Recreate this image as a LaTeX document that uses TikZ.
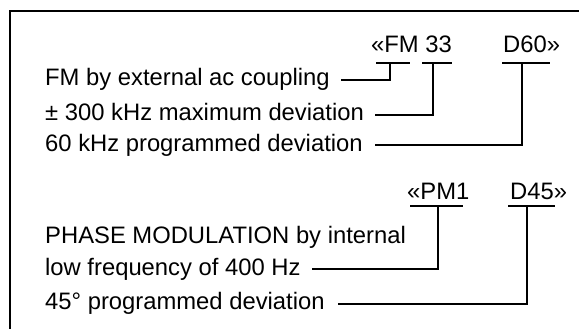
\documentclass[tikz,border=0pt]{standalone}
\usepackage{fontspec}
\setmainfont{Liberation Sans}
\usetikzlibrary{calc}
\begin{document}
\begin{tikzpicture}[x=1pt,y=-1pt,
  txt/.style={anchor=base west,inner sep=0pt,font=\fontsize{23.8}{28}\selectfont},
  bar/.style={line width=2.6pt},
  lead/.style={line width=1.8pt},
  frame/.style={line width=1.6pt}]
\useasboundingbox (0,0) rectangle (579,329);
\draw[frame] (579,11) -- (10,11) -- (10,329);
% description rows
\node[txt] (r1) at (45,86) {FM by external ac coupling};
\node[txt] (r2) at (45,121) {± 300 kHz maximum deviation};
\node[txt] (r3) at (45,151) {60 kHz programmed deviation};
\node[txt] (p1) at (45,243) {PHASE MODULATION by internal};
\node[txt] (p2) at (45,275) {low frequency of 400 Hz};
\node[txt] (p3) at (45,309) {45° programmed deviation};
% code labels
\node[txt] (fm) at (371,53) {«FM 33};
\node[txt] (d60) at (503,53) {D60»};
\node[txt] (pm) at (407,199) {«PM1};
\node[txt] (d45) at (510,199) {D45»};
% bars
\draw[bar] (376,63) -- (410,63);
\draw[bar] (422,63) -- (452,63);
\draw[bar] (502,63) -- (550,63);
\draw[bar] (410,206) -- (463,206);
\draw[bar] (508,206) -- (555,206);
\coordinate (s1) at (390,63);
\coordinate (s2) at (433,63);
\coordinate (s3) at (522,63);
\coordinate (s4) at (438,206);
\coordinate (s5) at (527,206);
% leaders
\draw[lead] (s1) |- ($(r1.base east)+(11,-6)$);
\draw[lead] (s2) |- ($(r2.base east)+(11,-6)$);
\draw[lead] (s3) |- ($(r3.base east)+(12,-6)$);
\draw[lead] (s4) |- ($(p2.base east)+(11,-6)$);
\draw[lead] (s5) |- ($(p3.base east)+(13,-5)$);
\end{tikzpicture}
\end{document}
